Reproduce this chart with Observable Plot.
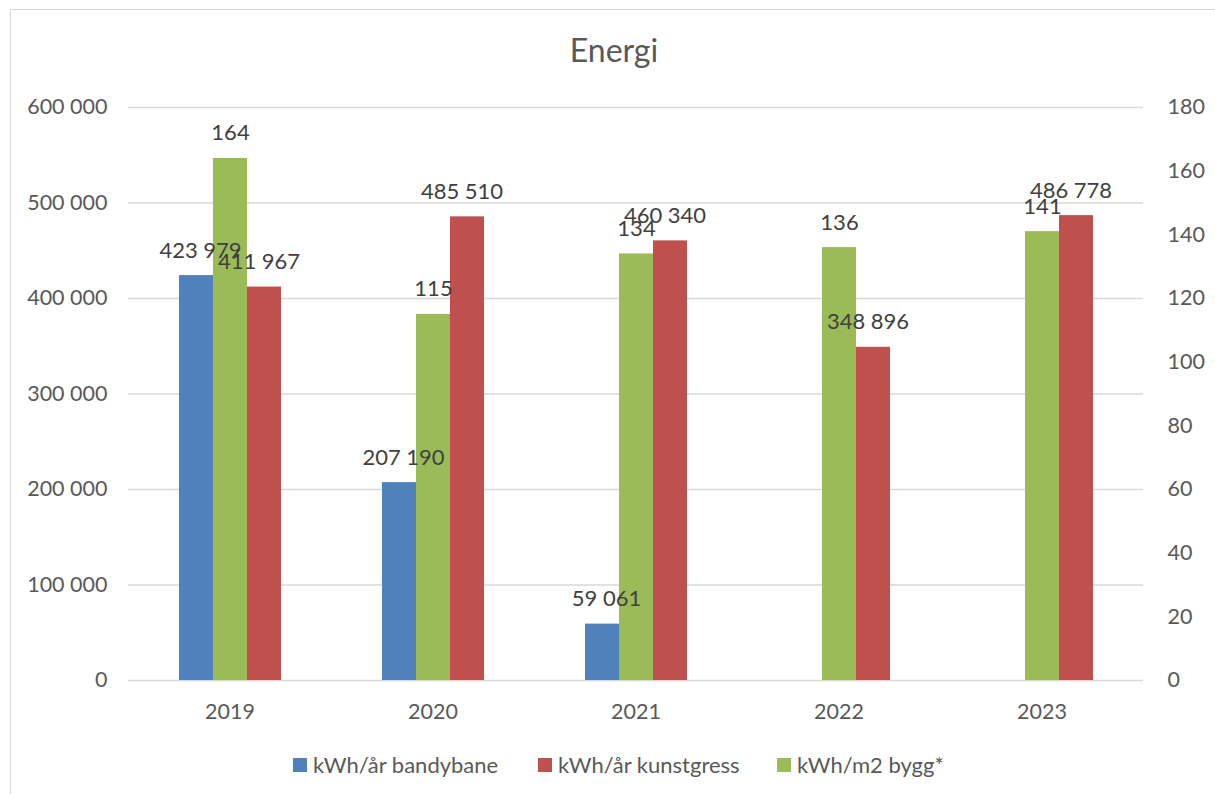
<!DOCTYPE html>
<html>
<head>
<meta charset="utf-8">
<script src="https://cdn.jsdelivr.net/npm/d3@7"></script>
<script src="https://cdn.jsdelivr.net/npm/@observablehq/plot@0.6"></script>
<style>
  html, body { margin: 0; padding: 0; background: #fff; }
  #wrap { position: relative; width: 1215px; height: 794px; overflow: hidden; font-family: Lato, "Open Sans", sans-serif; color: #595959; }
  #frame { position: absolute; left: 10px; top: 9px; width: 1220px; height: 800px; border: 1px solid #d9d9d9; box-sizing: border-box; }
  #title { position: absolute; left: 0; width: 1228px; top: 29px; text-align: center; font-size: 32px; line-height: 42px; }
  #chart { position: absolute; left: 0; top: 0; }
  .leg { position: absolute; top: 751px; font-size: 22px; line-height: 27px; white-space: nowrap; }
  .sw { position: absolute; width: 14px; height: 14px; top: 758px; }
</style>
</head>
<body>
<div id="wrap">
  <div id="frame"></div>
  <div id="chart"></div>
  <div id="title">Energi</div>
</div>
<script>
const years = ["2019", "2020", "2021", "2022", "2023"];
const bandybane = [423979, 207190, 59061, null, null];
const kunstgress = [411967, 485510, 460340, 348896, 486778];
const bygg = [164, 115, 134, 136, 141];
const seriesNames = ["kWh/år bandybane", "kWh/m2 bygg*", "kWh/år kunstgress"];
const legendOrder = ["kWh/år bandybane", "kWh/år kunstgress", "kWh/m2 bygg*"];
const colors = ["#4F81BD", "#9BBB59", "#C0504D"];
const labelShift = [4, 0, -5.5];
const leftTicks = [0, 100000, 200000, 300000, 400000, 500000, 600000];
const rightTicks = [0, 20, 40, 60, 80, 100, 120, 140, 160, 180];

const leftMax = 600000, rightMax = 180;
const k = leftMax / rightMax;
const fmt = v => d3.format(",")(v).replace(/,/g, " ");

const rows = [];
years.forEach((y, i) => {
  if (bandybane[i] != null) rows.push({year: y, s: seriesNames[0], v: bandybane[i], label: fmt(bandybane[i])});
  rows.push({year: y, s: seriesNames[1], v: bygg[i] * k, label: fmt(bygg[i])});
  rows.push({year: y, s: seriesNames[2], v: kunstgress[i], label: fmt(kunstgress[i])});
});

const textMarks = seriesNames.map((name, j) =>
  Plot.text(rows.filter(r => r.s === name), {
    fx: "year", x: "s", y: "v", text: "label",
    lineAnchor: "bottom", dy: -18, dx: labelShift[j], fontSize: 22, fill: "#404040"
  })
);

const chart = Plot.plot({
  width: 1215,
  height: 794,
  marginTop: 107,
  marginBottom: 114,
  marginLeft: 128,
  marginRight: 72,
  style: {fontFamily: "Lato, 'Open Sans', sans-serif", color: "#595959", background: "transparent"},
  fx: {domain: years, padding: 0, label: null},
  x: {domain: seriesNames, paddingInner: 0, paddingOuter: 1.46, axis: null},
  y: {domain: [0, leftMax], label: null},
  color: {domain: seriesNames, range: colors},
  marks: [
    Plot.ruleY(leftTicks, {stroke: "#d9d9d9", strokeWidth: 1.3}),
    Plot.barY(rows, {fx: "year", x: "s", y: "v", fill: "s", inset: 0}),
    ...textMarks,
    Plot.axisFx({anchor: "bottom", tickSize: 0, tickPadding: 23, fontSize: 21.5, label: null}),
    Plot.axisY(leftTicks, {anchor: "left", tickSize: 0, tickPadding: 21, fontSize: 21.5, tickFormat: fmt, label: null}),
    Plot.axisY(rightTicks.map(t => t * k), {anchor: "right", tickSize: 0, tickPadding: 24, fontSize: 21.5, tickFormat: d => String(Math.round(d / k)), label: null})
  ]
});
document.getElementById("chart").appendChild(chart);

const legX = [{sw: 293, tx: 313}, {sw: 538, tx: 558}, {sw: 777, tx: 797}];
const wrap = document.getElementById("wrap");
legendOrder.forEach((name, i) => {
  const sw = document.createElement("div");
  sw.className = "sw";
  sw.style.left = legX[i].sw + "px";
  sw.style.background = colors[seriesNames.indexOf(name)];
  wrap.appendChild(sw);
  const t = document.createElement("div");
  t.className = "leg";
  t.style.left = legX[i].tx + "px";
  t.textContent = name;
  wrap.appendChild(t);
});
</script>
</body>
</html>
